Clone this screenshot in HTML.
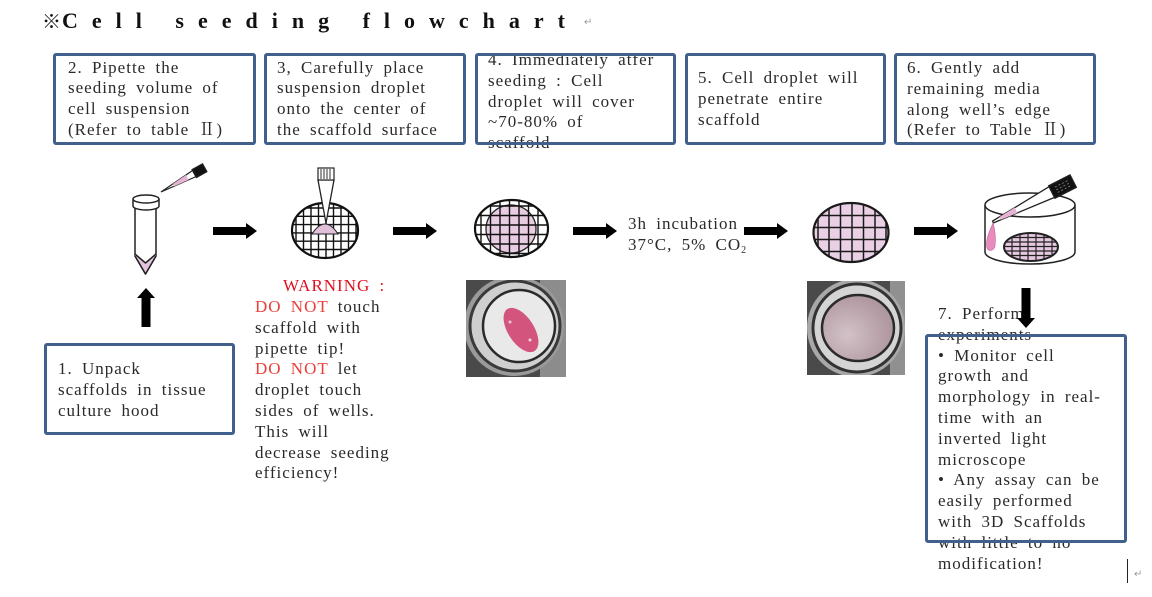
<!DOCTYPE html>
<html><head><meta charset="utf-8"><style>
html,body{margin:0;padding:0;background:#fff;}
body{width:1152px;height:597px;position:relative;overflow:hidden;}
.t{position:absolute;font-family:"Liberation Serif","Noto Serif CJK SC",serif;font-size:17px;line-height:20.8px;letter-spacing:1px;word-spacing:4px;color:#2a2a2a;white-space:pre;}
.r{color:#e8413c;}
svg{position:absolute;left:0;top:0;}
</style></head><body>

<div style="position:absolute;left:42px;top:10px;font-family:'Liberation Serif','Noto Serif CJK SC',serif;font-weight:bold;font-size:22px;line-height:22px;letter-spacing:14px;white-space:pre;color:#111;"><span style="font-family:'Noto Sans CJK JP',sans-serif;font-weight:900;font-size:19px;letter-spacing:1px;">※</span>Cell seeding flowchart</div>
<div style="position:absolute;left:584px;top:17px;font-family:'DejaVu Sans',sans-serif;font-size:10px;color:#999;">↵</div>

<div class="t" style="left:68px;top:57.5px;">2. Pipette the
seeding volume of
cell suspension
(Refer to table Ⅱ)</div>
<div class="t" style="left:277px;top:57.5px;">3, Carefully place
suspension droplet
onto the center of
the scaffold surface</div>
<div class="t" style="left:488px;top:50px;">4. Immediately atfer
seeding : Cell
droplet will cover
~70-80% of
scaffold</div>
<div class="t" style="left:698px;top:68px;">5. Cell droplet will
penetrate entire
scaffold</div>
<div class="t" style="left:907px;top:58px;">6. Gently add
remaining media
along well’s edge
(Refer to Table Ⅱ)</div>
<div class="t" style="left:58px;top:359px;">1. Unpack
scaffolds in tissue
culture hood</div>
<div class="t" style="left:283px;top:275.5px;color:#e01020;">WARNING :</div>
<div class="t" style="left:255px;top:297px;"><span class="r">DO NOT</span> touch
scaffold with
pipette tip!
<span class="r">DO NOT</span> let
droplet touch
sides of wells.
This will
decrease seeding
efficiency!</div>
<div class="t" style="left:628px;top:214px;">3h incubation
37°C, 5% CO<span style="font-size:10px;vertical-align:-3px;letter-spacing:0">2</span></div>
<div class="t" style="left:938px;top:304px;">7. Perform
experiments
• Monitor cell
growth and
morphology in real-
time with an
inverted light
microscope
• Any assay can be
easily performed
with 3D Scaffolds
with little to no
modification!</div>
<div style="position:absolute;left:1127px;top:559px;width:1px;height:24px;background:#222;"></div>
<div style="position:absolute;left:1134px;top:569px;font-family:'DejaVu Sans',sans-serif;font-size:10px;color:#999;">↵</div>

<svg width="1152" height="597" viewBox="0 0 1152 597" xmlns="http://www.w3.org/2000/svg">
<defs>
<clipPath id="c2"><ellipse cx="325" cy="230.5" rx="33" ry="27.5"/></clipPath>
<clipPath id="c3"><ellipse cx="511.5" cy="228.5" rx="36.5" ry="28.5"/></clipPath>
<clipPath id="c4"><ellipse cx="851" cy="232.5" rx="37.5" ry="29.5"/></clipPath>
<clipPath id="c5"><ellipse cx="1031" cy="247" rx="27" ry="14"/></clipPath>
<clipPath id="p1"><rect x="466" y="280" width="100" height="97"/></clipPath>
<clipPath id="p2"><rect x="807" y="281" width="98" height="94"/></clipPath>
<radialGradient id="g2" cx="0.35" cy="0.6" r="0.8"><stop offset="0" stop-color="#d2c2c8"/><stop offset="0.6" stop-color="#b8a0a8"/><stop offset="1" stop-color="#a68e96"/></radialGradient>
</defs>

<!-- boxes -->
<g fill="none" stroke="#41608c" stroke-width="3">
<rect x="54.5" y="54.5" width="200" height="89" rx="1.5"/>
<rect x="265.5" y="54.5" width="199" height="89" rx="1.5"/>
<rect x="476.5" y="54.5" width="198" height="89" rx="1.5"/>
<rect x="686.5" y="54.5" width="198" height="89" rx="1.5"/>
<rect x="895.5" y="54.5" width="199" height="89" rx="1.5"/>
<rect x="45.5" y="344.5" width="188" height="89" rx="1.5"/>
<rect x="926.5" y="335.5" width="199" height="206" rx="1.5"/>
</g>

<!-- tube -->
<g stroke="#222" stroke-width="1.5" stroke-linejoin="round">
<path d="M135,205 L135,256 L145.5,274 L156,256 L156,205" fill="#fff"/>
<path d="M135,254 L145.5,263 L156,254 L156,256 L145.5,274 L135,256 Z" fill="#e4c4dc" stroke="none"/>
<path d="M135,254 L145.5,263 L156,254" fill="none"/>
<path d="M135,256 L145.5,274 L156,256" fill="none"/>
<path d="M133,199 L133,206 A13,4 0 0 0 159,206 L159,199" fill="#fff"/>
<ellipse cx="146" cy="199" rx="13" ry="4" fill="#fff"/>
</g>
<g transform="translate(161,192) rotate(-29)" stroke="#222" stroke-width="1.2">
<polygon points="0,0 38,-3.5 38,3.5" fill="#fff"/>
<polygon points="14,-1.3 30,-2.8 30,2.8 14,1.3" fill="#e4b4d4" stroke="none"/>
<rect x="38" y="-4.5" width="12" height="9" fill="#111"/>
</g>

<!-- scaffold 2 -->
<ellipse cx="325" cy="230.5" rx="33" ry="27.5" fill="#fff"/>
<g clip-path="url(#c2)" stroke="#111" stroke-width="1.4">
<path d="M296,200V262M303.5,200V262M311,200V262M318.5,200V262M326,200V262M333.5,200V262M341,200V262M348.5,200V262M356,200V262"/>
<path d="M290,208H360M290,216.3H360M290,224.6H360M290,232.9H360M290,241.2H360M290,249.5H360M290,257.8H360"/>
</g>
<ellipse cx="325" cy="230.5" rx="33" ry="27.5" fill="none" stroke="#111" stroke-width="2.2"/>
<path d="M312,234 Q325,214 338,234 Z" fill="#e2c0da" stroke="#222" stroke-width="1"/>
<polygon points="318,180 334,180 326,223" fill="#fff" stroke="#222" stroke-width="1.3"/>
<rect x="318" y="168" width="16" height="12" fill="#fff" stroke="#222" stroke-width="1.2"/>
<path d="M321,169V179M324,169V179M327,169V179M330,169V179" stroke="#333" stroke-width="1"/>

<!-- scaffold 3 -->
<ellipse cx="511.5" cy="228.5" rx="36.5" ry="28.5" fill="#fff"/>
<ellipse cx="511" cy="229" rx="25" ry="24" fill="#e8cce2" stroke="#222" stroke-width="1.3"/>
<g clip-path="url(#c3)" stroke="#111" stroke-width="1.4">
<path d="M481,195V262M490.5,195V262M500,195V262M509.5,195V262M519,195V262M528.5,195V262M538,195V262"/>
<path d="M470,206H555M470,215.5H555M470,225H555M470,234.5H555M470,244H555M470,253.5H555"/>
</g>
<ellipse cx="511.5" cy="228.5" rx="36.5" ry="28.5" fill="none" stroke="#111" stroke-width="2.2"/>

<!-- scaffold 4 -->
<ellipse cx="851" cy="232.5" rx="37.5" ry="29.5" fill="#ead0e5"/>
<g clip-path="url(#c4)" stroke="#1a1a1a" stroke-width="1.5">
<path d="M818,200V265M829,200V265M840.5,200V265M852,200V265M863.5,200V265M875,200V265M886,200V265"/>
<path d="M810,215.5H892M810,227.5H892M810,239.5H892M810,251.5H892"/>
</g>
<ellipse cx="851" cy="232.5" rx="37.5" ry="29.5" fill="none" stroke="#1a1a1a" stroke-width="2.2"/>

<!-- well icon -->
<g stroke="#222" stroke-width="1.5">
<path d="M985,205 L985,252 A45,12 0 0 0 1075,252 L1075,205" fill="#fff"/>
<ellipse cx="1030" cy="205" rx="45" ry="12" fill="#fff"/>
</g>
<ellipse cx="1031" cy="247" rx="27" ry="14" fill="#e6c8e0"/>
<g clip-path="url(#c5)" stroke="#222" stroke-width="1.2">
<path d="M1012,230V265M1020,230V265M1028,230V265M1036,230V265M1044,230V265M1052,230V265"/>
<path d="M1000,237.5H1062M1000,242H1062M1000,246.5H1062M1000,251H1062M1000,255.5H1062"/>
</g>
<ellipse cx="1031" cy="247" rx="27" ry="14" fill="none" stroke="#222" stroke-width="2"/>
<g transform="translate(993,222) rotate(-27)" stroke="#222" stroke-width="1.3">
<polygon points="0,-1 66,-6 66,6 0,1" fill="#fff"/>
<polygon points="8,-1.6 26,-3 26,3 8,1.6" fill="#e6b4d6" stroke="none"/>
<rect x="66" y="-7" width="24" height="14" fill="#111"/>
<path d="M71,-3H86M71,0H86M71,3H86" stroke="#888" stroke-width="0.8" stroke-dasharray="2 2"/>
</g>
<path d="M993,223 C990,230 985,240 987,248 C989,252 994,251 995,246 C996,238 995,230 993,223 Z" fill="#e88cc0" stroke="#c06090" stroke-width="0.6"/>

<!-- arrows -->
<g fill="#000">
<rect x="213" y="227" width="34" height="8"/><polygon points="246,223 257,231 246,239"/>
<rect x="393" y="227" width="34" height="8"/><polygon points="426,223 437,231 426,239"/>
<rect x="573" y="227" width="34" height="8"/><polygon points="606,223 617,231 606,239"/>
<rect x="744" y="227" width="34" height="8"/><polygon points="777,223 788,231 777,239"/>
<rect x="914" y="227" width="34" height="8"/><polygon points="947,223 958,231 947,239"/>
<rect x="141.5" y="297" width="9" height="30"/><polygon points="137,298 146,288 155,298"/>
<rect x="1021.5" y="288" width="9" height="31"/><polygon points="1017,318 1026,328 1035,318"/>
</g>

<!-- photo 1 -->
<g clip-path="url(#p1)">
<rect x="466" y="280" width="100" height="97" fill="#4a4a4a"/>
<rect x="540" y="280" width="26" height="97" fill="#8c8c8c"/>
<circle cx="514" cy="326" r="50" fill="#9a9a9a"/>
<circle cx="515" cy="326" r="45" fill="#cfcfcf" stroke="#3a3a3a" stroke-width="3"/>
<circle cx="519" cy="326" r="36" fill="#e9e9e9" stroke="#2a2a2a" stroke-width="2.5"/>
<ellipse cx="521" cy="330" rx="13" ry="25" transform="rotate(-33 521 330)" fill="#d3557e"/>
<circle cx="510" cy="322" r="1.5" fill="#f4c4d4"/>
<circle cx="530" cy="340" r="1.5" fill="#f4d4e0"/>
</g>

<!-- photo 2 -->
<g clip-path="url(#p2)">
<rect x="807" y="281" width="98" height="94" fill="#4a4a4a"/>
<rect x="890" y="281" width="15" height="94" fill="#909090"/>
<circle cx="856" cy="328" r="49" fill="#a8a8a8"/>
<circle cx="857" cy="328" r="44" fill="#d4d4d4" stroke="#333" stroke-width="3"/>
<ellipse cx="858" cy="328" rx="36" ry="33" fill="url(#g2)" stroke="#2a2a2a" stroke-width="2.5"/>
</g>
</svg>
</body></html>
